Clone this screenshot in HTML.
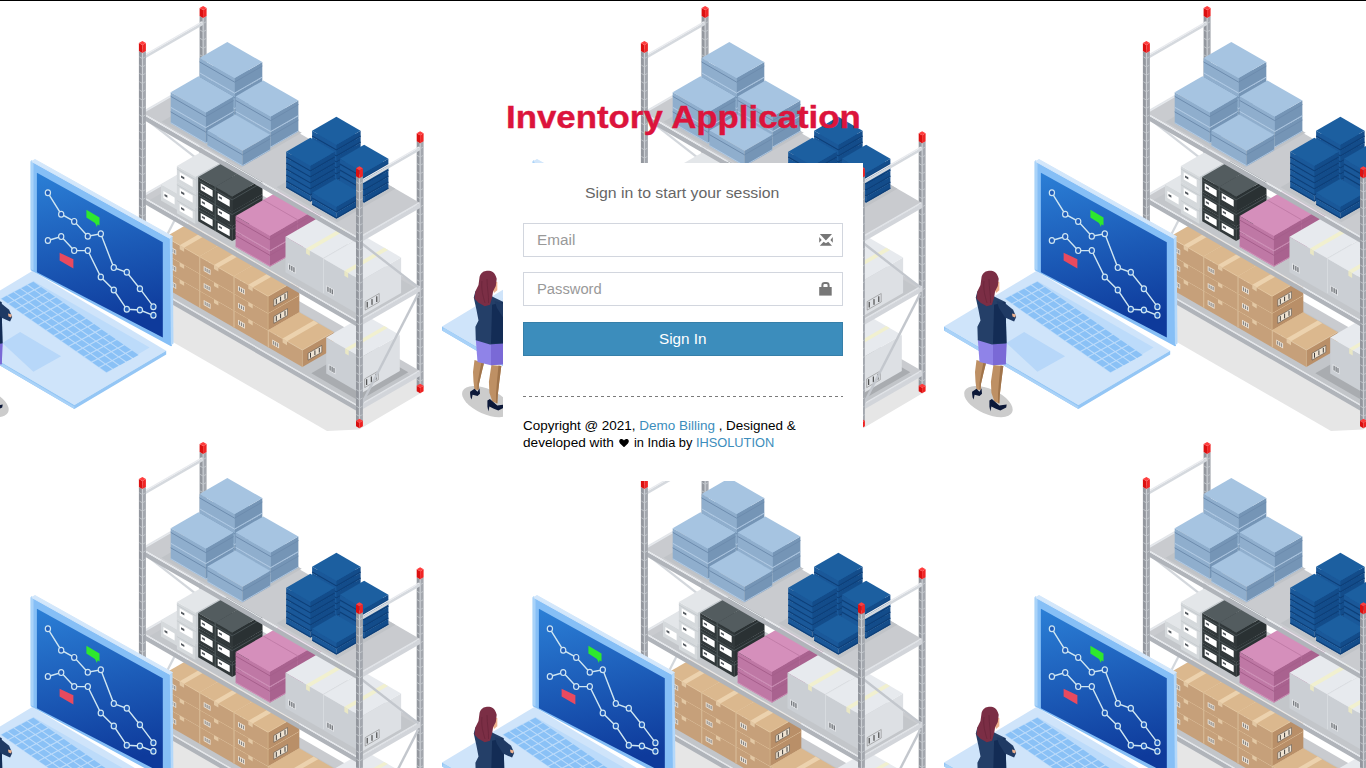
<!DOCTYPE html>
<html><head><meta charset="utf-8"><title>Inventory Application</title>
<style>
html,body{margin:0;padding:0;width:1366px;height:768px;overflow:hidden;background:#fff;}
body{position:relative;font-family:"Liberation Sans",sans-serif;}
#bg{position:absolute;left:0;top:0;}
.topline{position:absolute;left:0;top:0;width:1366px;height:1px;background:#000;}
.abs{position:absolute;white-space:nowrap;}
.t{display:inline-block;transform-origin:0 0;}
#logo{left:506.2px;top:102.2px;font-size:30.5px;-webkit-text-stroke:0.35px #dc143c;line-height:30px;font-weight:bold;color:#dc143c;}
#box{left:503px;top:163px;width:360px;height:318px;background:#fff;}
#msg{left:585.3px;top:185px;font-size:14px;line-height:16px;color:#666;}
.inp{position:absolute;left:523px;width:318px;height:32px;border:1px solid #d2d6de;background:#fff;}
.ph{font-size:14px;line-height:16px;color:#999;}
#btn{position:absolute;left:523px;top:322px;width:318px;height:32px;border:1px solid #367fa9;background:#3c8dbc;}
#btnt{left:659px;top:331px;font-size:14px;line-height:16px;color:#fff;}
.cp{font-size:12px;line-height:14px;color:#000;}
.lk{color:#3c8dbc;}
</style></head><body>
<svg id="bg" width="1366" height="768" viewBox="0 0 1366 768">
<defs>
<linearGradient id="scr" x1="0" y1="0" x2="0.15" y2="1">
<stop offset="0" stop-color="#2b7fd6"/><stop offset="1" stop-color="#0e3a9b"/>
</linearGradient>
<g id="tile">
<g id="rack"><polygon points="100.0,300.0 210.0,255.0 421.0,378.0 421.0,393.0 359.0,429.5 327.0,431.0" fill="#e6e6e6"/>
<polygon points="199.6,260.4 203.1,262.4 203.1,17.9 199.6,15.9" fill="#93979e"/>
<polygon points="203.1,262.4 206.6,260.4 206.6,15.9 203.1,17.9" fill="#a3a7ae"/>
<polygon points="199.6,15.9 203.1,17.9 206.6,15.9 203.1,13.9" fill="#c4c8cd"/>
<line x1="203.1" y1="261.9" x2="203.1" y2="17.9" stroke="#cdd1d6" stroke-width="1.1"/>
<path d="M200.1,254.2L203.1,255.9L206.1,254.2M200.1,245.9L203.1,247.6L206.1,245.9M200.1,237.6L203.1,239.3L206.1,237.6M200.1,229.3L203.1,231.0L206.1,229.3M200.1,221.0L203.1,222.8L206.1,221.0M200.1,212.7L203.1,214.4L206.1,212.7M200.1,204.4L203.1,206.1L206.1,204.4M200.1,196.1L203.1,197.8L206.1,196.1M200.1,187.8L203.1,189.6L206.1,187.8M200.1,179.5L203.1,181.2L206.1,179.5M200.1,171.2L203.1,172.9L206.1,171.2M200.1,162.9L203.1,164.7L206.1,162.9M200.1,154.6L203.1,156.4L206.1,154.6M200.1,146.3L203.1,148.1L206.1,146.3M200.1,138.0L203.1,139.8L206.1,138.0M200.1,129.7L203.1,131.4L206.1,129.7M200.1,121.4L203.1,123.1L206.1,121.4M200.1,113.1L203.1,114.8L206.1,113.1M200.1,104.8L203.1,106.5L206.1,104.8M200.1,96.5L203.1,98.2L206.1,96.5M200.1,88.2L203.1,89.9L206.1,88.2M200.1,79.9L203.1,81.6L206.1,79.9M200.1,71.6L203.1,73.3L206.1,71.6M200.1,63.3L203.1,65.0L206.1,63.3M200.1,55.0L203.1,56.7L206.1,55.0M200.1,46.7L203.1,48.4L206.1,46.7M200.1,38.4L203.1,40.1L206.1,38.4M200.1,30.1L203.1,31.8L206.1,30.1M200.1,21.8L203.1,23.5L206.1,21.8" stroke="#c3c7cc" stroke-width="0.9" fill="none"/>
<polygon points="199.6,265.9 203.1,267.9 203.1,262.4 199.6,260.4" fill="#d90f0f"/>
<polygon points="203.1,267.9 206.6,265.9 206.6,260.4 203.1,262.4" fill="#ee2020"/>
<polygon points="199.6,260.4 203.1,262.4 206.6,260.4 203.1,258.4" fill="#ff3a3a"/>
<polygon points="199.6,15.9 203.1,17.9 203.1,9.9 199.6,7.9" fill="#dc1010"/>
<polygon points="203.1,17.9 206.6,15.9 206.6,7.9 203.1,9.9" fill="#f02525"/>
<polygon points="199.6,7.9 203.1,9.9 206.6,7.9 203.1,5.9" fill="#ff3d3d"/>
<polygon points="416.7,385.8 420.1,387.8 420.1,143.2 416.7,141.2" fill="#93979e"/>
<polygon points="420.1,387.8 423.6,385.8 423.6,141.2 420.1,143.2" fill="#a3a7ae"/>
<polygon points="416.7,141.2 420.1,143.2 423.6,141.2 420.1,139.2" fill="#c4c8cd"/>
<line x1="420.1" y1="387.2" x2="420.1" y2="143.2" stroke="#cdd1d6" stroke-width="1.1"/>
<path d="M417.1,379.5L420.1,381.2L423.2,379.5M417.1,371.2L420.1,372.9L423.2,371.2M417.1,362.9L420.1,364.6L423.2,362.9M417.1,354.6L420.1,356.4L423.2,354.6M417.1,346.3L420.1,348.1L423.2,346.3M417.1,338.0L420.1,339.8L423.2,338.0M417.1,329.7L420.1,331.4L423.2,329.7M417.1,321.4L420.1,323.1L423.2,321.4M417.1,313.1L420.1,314.9L423.2,313.1M417.1,304.8L420.1,306.6L423.2,304.8M417.1,296.5L420.1,298.2L423.2,296.5M417.1,288.2L420.1,290.0L423.2,288.2M417.1,279.9L420.1,281.7L423.2,279.9M417.1,271.6L420.1,273.4L423.2,271.6M417.1,263.3L420.1,265.1L423.2,263.3M417.1,255.0L420.1,256.8L423.2,255.0M417.1,246.7L420.1,248.4L423.2,246.7M417.1,238.4L420.1,240.1L423.2,238.4M417.1,230.1L420.1,231.8L423.2,230.1M417.1,221.8L420.1,223.5L423.2,221.8M417.1,213.5L420.1,215.2L423.2,213.5M417.1,205.2L420.1,206.9L423.2,205.2M417.1,196.9L420.1,198.6L423.2,196.9M417.1,188.6L420.1,190.3L423.2,188.6M417.1,180.3L420.1,182.0L423.2,180.3M417.1,172.0L420.1,173.7L423.2,172.0M417.1,163.7L420.1,165.4L423.2,163.7M417.1,155.4L420.1,157.1L423.2,155.4M417.1,147.1L420.1,148.8L423.2,147.1" stroke="#c3c7cc" stroke-width="0.9" fill="none"/>
<polygon points="416.7,391.2 420.1,393.2 420.1,387.8 416.7,385.8" fill="#d90f0f"/>
<polygon points="420.1,393.2 423.6,391.2 423.6,385.8 420.1,387.8" fill="#ee2020"/>
<polygon points="416.7,385.8 420.1,387.8 423.6,385.8 420.1,383.8" fill="#ff3a3a"/>
<polygon points="416.7,141.2 420.1,143.2 420.1,135.2 416.7,133.2" fill="#dc1010"/>
<polygon points="420.1,143.2 423.6,141.2 423.6,133.2 420.1,135.2" fill="#f02525"/>
<polygon points="416.7,133.2 420.1,135.2 423.6,133.2 420.1,131.2" fill="#ff3d3d"/>
<line x1="144.1" y1="117.7" x2="201.4" y2="162.1" stroke="#d3d7dc" stroke-width="2.2"/>
<line x1="201.4" y1="168.1" x2="144.1" y2="279.7" stroke="#d3d7dc" stroke-width="2.2"/>
<polygon points="141.1,116.9 142.4,117.7 142.4,112.7 141.1,111.9" fill="#b0b4ba"/>
<polygon points="142.4,117.7 203.1,82.6 203.1,77.6 142.4,112.7" fill="#d2d5da"/>
<polygon points="141.1,111.9 142.4,112.7 203.1,77.6 201.8,76.9" fill="#e2e5e9"/>
<polygon points="141.1,200.4 142.4,201.2 142.4,196.2 141.1,195.4" fill="#b0b4ba"/>
<polygon points="142.4,201.2 203.1,166.1 203.1,161.1 142.4,196.2" fill="#d2d5da"/>
<polygon points="141.1,195.4 142.4,196.2 203.1,161.1 201.8,160.4" fill="#e2e5e9"/>
<polygon points="141.1,284.9 142.4,285.7 142.4,280.7 141.1,279.9" fill="#b0b4ba"/>
<polygon points="142.4,285.7 203.1,250.6 203.1,245.6 142.4,280.7" fill="#d2d5da"/>
<polygon points="141.1,279.9 142.4,280.7 203.1,245.6 201.8,244.9" fill="#e2e5e9"/>
<polygon points="141.1,59.2 142.4,60.0 142.4,57.0 141.1,56.2" fill="#c8ccd1"/>
<polygon points="142.4,60.0 203.1,24.9 203.1,21.9 142.4,57.0" fill="#d5d9de"/>
<polygon points="141.1,56.2 142.4,57.0 203.1,21.9 201.8,21.2" fill="#e8eaee"/>
<polygon points="142.4,280.7 359.4,406.0 420.1,370.9 203.1,245.6" fill="#c9cbcf"/>
<polygon points="142.0,280.4 143.3,281.2 204.0,246.1 202.7,245.4" fill="#e6e9ed"/>
<polygon points="151.1,285.7 358.9,405.7 410.9,375.7 203.0,255.7" fill="#c2c5c9"/>
<polygon points="165.3,287.9 199.6,307.7 199.6,290.7 165.3,270.9" fill="#c6a07a"/>
<polygon points="199.6,307.7 230.7,289.7 230.7,272.7 199.6,290.7" fill="#b98f68"/>
<polygon points="165.3,270.9 199.6,290.7 230.7,272.7 196.4,252.9" fill="#dbb88e"/>
<polyline points="165.3,270.9 199.6,290.7 230.7,272.7" fill="none" stroke="#e6cba6" stroke-width="0.7"/>
<polyline points="199.6,307.7 199.6,290.7" fill="none" stroke="#d4b48c" stroke-width="0.7"/>
<polyline points="165.5,288.1 165.5,271.1" fill="none" stroke="#dcc29e" stroke-width="0.8"/>
<polygon points="179.7,279.2 184.1,281.8 215.3,263.8 210.8,261.2" fill="#ecd2ae"/>
<polygon points="179.7,279.2 184.1,281.8 184.1,285.8 179.7,283.2" fill="#e3c8a4"/>
<polygon points="169.4,285.2 176.2,289.1 176.2,284.0 169.4,280.1" fill="#efe6da"/>
<polygon points="170.4,284.9 171.3,285.5 171.3,282.0 170.4,281.4" fill="#7b7b7b"/>
<polygon points="172.3,286.1 173.3,286.6 173.3,283.1 172.3,282.6" fill="#7b7b7b"/>
<polygon points="174.3,287.2 175.3,287.8 175.3,284.3 174.3,283.7" fill="#7b7b7b"/>
<polygon points="205.2,300.7 218.9,292.8 218.9,286.0 205.2,293.9" fill="#efe3d2"/>
<polyline points="207.7,298.3 207.7,293.5" fill="none" stroke="#2a2a2a" stroke-width="0.9"/>
<polyline points="212.0,295.7 212.0,291.0" fill="none" stroke="#2a2a2a" stroke-width="0.9"/>
<polyline points="216.4,293.2 216.4,288.5" fill="none" stroke="#2a2a2a" stroke-width="0.9"/>
<polyline points="205.2,300.7 218.9,292.8 218.9,286.0 205.2,293.9 205.2,300.7" fill="none" stroke="#444" stroke-width="0.5"/>
<polygon points="165.3,270.9 199.6,290.7 199.6,273.7 165.3,253.9" fill="#c6a07a"/>
<polygon points="199.6,290.7 230.7,272.7 230.7,255.7 199.6,273.7" fill="#b98f68"/>
<polygon points="165.3,253.9 199.6,273.7 230.7,255.7 196.4,235.9" fill="#dbb88e"/>
<polyline points="165.3,253.9 199.6,273.7 230.7,255.7" fill="none" stroke="#e6cba6" stroke-width="0.7"/>
<polyline points="199.6,290.7 199.6,273.7" fill="none" stroke="#d4b48c" stroke-width="0.7"/>
<polyline points="165.5,271.1 165.5,254.1" fill="none" stroke="#dcc29e" stroke-width="0.8"/>
<polygon points="179.7,262.2 184.1,264.8 215.3,246.8 210.8,244.2" fill="#ecd2ae"/>
<polygon points="179.7,262.2 184.1,264.8 184.1,268.8 179.7,266.2" fill="#e3c8a4"/>
<polygon points="169.4,268.2 176.2,272.1 176.2,267.0 169.4,263.1" fill="#efe6da"/>
<polygon points="170.4,267.9 171.3,268.5 171.3,265.0 170.4,264.4" fill="#7b7b7b"/>
<polygon points="172.3,269.1 173.3,269.6 173.3,266.1 172.3,265.6" fill="#7b7b7b"/>
<polygon points="174.3,270.2 175.3,270.8 175.3,267.3 174.3,266.7" fill="#7b7b7b"/>
<polygon points="205.2,283.7 218.9,275.8 218.9,269.0 205.2,276.9" fill="#efe3d2"/>
<polyline points="207.7,281.3 207.7,276.5" fill="none" stroke="#2a2a2a" stroke-width="0.9"/>
<polyline points="212.0,278.7 212.0,274.0" fill="none" stroke="#2a2a2a" stroke-width="0.9"/>
<polyline points="216.4,276.2 216.4,271.5" fill="none" stroke="#2a2a2a" stroke-width="0.9"/>
<polyline points="205.2,283.7 218.9,275.8 218.9,269.0 205.2,276.9 205.2,283.7" fill="none" stroke="#444" stroke-width="0.5"/>
<polygon points="165.3,253.9 199.6,273.7 199.6,256.7 165.3,236.9" fill="#c6a07a"/>
<polygon points="199.6,273.7 230.7,255.7 230.7,238.7 199.6,256.7" fill="#b98f68"/>
<polygon points="165.3,236.9 199.6,256.7 230.7,238.7 196.4,218.9" fill="#dbb88e"/>
<polyline points="165.3,236.9 199.6,256.7 230.7,238.7" fill="none" stroke="#e6cba6" stroke-width="0.7"/>
<polyline points="199.6,273.7 199.6,256.7" fill="none" stroke="#d4b48c" stroke-width="0.7"/>
<polyline points="165.5,254.1 165.5,237.1" fill="none" stroke="#dcc29e" stroke-width="0.8"/>
<polygon points="179.7,245.2 184.1,247.8 215.3,229.8 210.8,227.2" fill="#ecd2ae"/>
<polygon points="179.7,245.2 184.1,247.8 184.1,251.8 179.7,249.2" fill="#e3c8a4"/>
<polygon points="169.4,251.2 176.2,255.1 176.2,250.0 169.4,246.1" fill="#efe6da"/>
<polygon points="170.4,250.9 171.3,251.5 171.3,248.0 170.4,247.4" fill="#7b7b7b"/>
<polygon points="172.3,252.1 173.3,252.6 173.3,249.1 172.3,248.6" fill="#7b7b7b"/>
<polygon points="174.3,253.2 175.3,253.8 175.3,250.3 174.3,249.7" fill="#7b7b7b"/>
<polygon points="205.2,266.7 218.9,258.8 218.9,252.0 205.2,259.9" fill="#efe3d2"/>
<polyline points="207.7,264.3 207.7,259.5" fill="none" stroke="#2a2a2a" stroke-width="0.9"/>
<polyline points="212.0,261.7 212.0,257.0" fill="none" stroke="#2a2a2a" stroke-width="0.9"/>
<polyline points="216.4,259.2 216.4,254.5" fill="none" stroke="#2a2a2a" stroke-width="0.9"/>
<polyline points="205.2,266.7 218.9,258.8 218.9,252.0 205.2,259.9 205.2,266.7" fill="none" stroke="#444" stroke-width="0.5"/>
<polygon points="199.6,307.7 233.9,327.5 233.9,310.5 199.6,290.7" fill="#c6a07a"/>
<polygon points="233.9,327.5 265.0,309.5 265.0,292.5 233.9,310.5" fill="#b98f68"/>
<polygon points="199.6,290.7 233.9,310.5 265.0,292.5 230.7,272.7" fill="#dbb88e"/>
<polyline points="199.6,290.7 233.9,310.5 265.0,292.5" fill="none" stroke="#e6cba6" stroke-width="0.7"/>
<polyline points="233.9,327.5 233.9,310.5" fill="none" stroke="#d4b48c" stroke-width="0.7"/>
<polyline points="199.8,307.8 199.8,290.8" fill="none" stroke="#dcc29e" stroke-width="0.8"/>
<polygon points="214.0,299.0 218.4,301.6 249.6,283.6 245.1,281.0" fill="#ecd2ae"/>
<polygon points="214.0,299.0 218.4,301.6 218.4,305.6 214.0,303.0" fill="#e3c8a4"/>
<polygon points="203.7,305.0 210.5,308.9 210.5,303.8 203.7,299.9" fill="#efe6da"/>
<polygon points="204.7,304.7 205.6,305.3 205.6,301.8 204.7,301.2" fill="#7b7b7b"/>
<polygon points="206.6,305.9 207.6,306.4 207.6,302.9 206.6,302.4" fill="#7b7b7b"/>
<polygon points="208.6,307.0 209.6,307.6 209.6,304.1 208.6,303.5" fill="#7b7b7b"/>
<polygon points="239.5,320.5 253.2,312.6 253.2,305.8 239.5,313.7" fill="#efe3d2"/>
<polyline points="242.0,318.1 242.0,313.3" fill="none" stroke="#2a2a2a" stroke-width="0.9"/>
<polyline points="246.3,315.5 246.3,310.8" fill="none" stroke="#2a2a2a" stroke-width="0.9"/>
<polyline points="250.7,313.0 250.7,308.3" fill="none" stroke="#2a2a2a" stroke-width="0.9"/>
<polyline points="239.5,320.5 253.2,312.6 253.2,305.8 239.5,313.7 239.5,320.5" fill="none" stroke="#444" stroke-width="0.5"/>
<polygon points="199.6,290.7 233.9,310.5 233.9,293.5 199.6,273.7" fill="#c6a07a"/>
<polygon points="233.9,310.5 265.0,292.5 265.0,275.5 233.9,293.5" fill="#b98f68"/>
<polygon points="199.6,273.7 233.9,293.5 265.0,275.5 230.7,255.7" fill="#dbb88e"/>
<polyline points="199.6,273.7 233.9,293.5 265.0,275.5" fill="none" stroke="#e6cba6" stroke-width="0.7"/>
<polyline points="233.9,310.5 233.9,293.5" fill="none" stroke="#d4b48c" stroke-width="0.7"/>
<polyline points="199.8,290.8 199.8,273.8" fill="none" stroke="#dcc29e" stroke-width="0.8"/>
<polygon points="214.0,282.0 218.4,284.6 249.6,266.6 245.1,264.0" fill="#ecd2ae"/>
<polygon points="214.0,282.0 218.4,284.6 218.4,288.6 214.0,286.0" fill="#e3c8a4"/>
<polygon points="203.7,288.0 210.5,291.9 210.5,286.8 203.7,282.9" fill="#efe6da"/>
<polygon points="204.7,287.7 205.6,288.3 205.6,284.8 204.7,284.2" fill="#7b7b7b"/>
<polygon points="206.6,288.9 207.6,289.4 207.6,285.9 206.6,285.4" fill="#7b7b7b"/>
<polygon points="208.6,290.0 209.6,290.6 209.6,287.1 208.6,286.5" fill="#7b7b7b"/>
<polygon points="239.5,303.5 253.2,295.6 253.2,288.8 239.5,296.7" fill="#efe3d2"/>
<polyline points="242.0,301.1 242.0,296.3" fill="none" stroke="#2a2a2a" stroke-width="0.9"/>
<polyline points="246.3,298.5 246.3,293.8" fill="none" stroke="#2a2a2a" stroke-width="0.9"/>
<polyline points="250.7,296.0 250.7,291.3" fill="none" stroke="#2a2a2a" stroke-width="0.9"/>
<polyline points="239.5,303.5 253.2,295.6 253.2,288.8 239.5,296.7 239.5,303.5" fill="none" stroke="#444" stroke-width="0.5"/>
<polygon points="199.6,273.7 233.9,293.5 233.9,276.5 199.6,256.7" fill="#c6a07a"/>
<polygon points="233.9,293.5 265.0,275.5 265.0,258.5 233.9,276.5" fill="#b98f68"/>
<polygon points="199.6,256.7 233.9,276.5 265.0,258.5 230.7,238.7" fill="#dbb88e"/>
<polyline points="199.6,256.7 233.9,276.5 265.0,258.5" fill="none" stroke="#e6cba6" stroke-width="0.7"/>
<polyline points="233.9,293.5 233.9,276.5" fill="none" stroke="#d4b48c" stroke-width="0.7"/>
<polyline points="199.8,273.8 199.8,256.8" fill="none" stroke="#dcc29e" stroke-width="0.8"/>
<polygon points="214.0,265.0 218.4,267.6 249.6,249.6 245.1,247.0" fill="#ecd2ae"/>
<polygon points="214.0,265.0 218.4,267.6 218.4,271.6 214.0,269.0" fill="#e3c8a4"/>
<polygon points="203.7,271.0 210.5,274.9 210.5,269.8 203.7,265.9" fill="#efe6da"/>
<polygon points="204.7,270.7 205.6,271.3 205.6,267.8 204.7,267.2" fill="#7b7b7b"/>
<polygon points="206.6,271.9 207.6,272.4 207.6,268.9 206.6,268.4" fill="#7b7b7b"/>
<polygon points="208.6,273.0 209.6,273.6 209.6,270.1 208.6,269.5" fill="#7b7b7b"/>
<polygon points="239.5,286.5 253.2,278.6 253.2,271.8 239.5,279.7" fill="#efe3d2"/>
<polyline points="242.0,284.1 242.0,279.3" fill="none" stroke="#2a2a2a" stroke-width="0.9"/>
<polyline points="246.3,281.5 246.3,276.8" fill="none" stroke="#2a2a2a" stroke-width="0.9"/>
<polyline points="250.7,279.0 250.7,274.3" fill="none" stroke="#2a2a2a" stroke-width="0.9"/>
<polyline points="239.5,286.5 253.2,278.6 253.2,271.8 239.5,279.7 239.5,286.5" fill="none" stroke="#444" stroke-width="0.5"/>
<polygon points="233.9,327.5 268.1,347.3 268.1,330.3 233.9,310.5" fill="#c6a07a"/>
<polygon points="268.1,347.3 299.3,329.3 299.3,312.3 268.1,330.3" fill="#b98f68"/>
<polygon points="233.9,310.5 268.1,330.3 299.3,312.3 265.0,292.5" fill="#dbb88e"/>
<polyline points="233.9,310.5 268.1,330.3 299.3,312.3" fill="none" stroke="#e6cba6" stroke-width="0.7"/>
<polyline points="268.1,347.3 268.1,330.3" fill="none" stroke="#d4b48c" stroke-width="0.7"/>
<polyline points="234.1,327.6 234.1,310.6" fill="none" stroke="#dcc29e" stroke-width="0.8"/>
<polygon points="248.3,318.8 252.7,321.4 283.9,303.4 279.4,300.8" fill="#ecd2ae"/>
<polygon points="248.3,318.8 252.7,321.4 252.7,325.4 248.3,322.8" fill="#e3c8a4"/>
<polygon points="238.0,324.8 244.8,328.7 244.8,323.6 238.0,319.7" fill="#efe6da"/>
<polygon points="238.9,324.5 239.9,325.1 239.9,321.6 238.9,321.0" fill="#7b7b7b"/>
<polygon points="240.9,325.7 241.9,326.2 241.9,322.7 240.9,322.2" fill="#7b7b7b"/>
<polygon points="242.9,326.8 243.8,327.4 243.8,323.9 242.9,323.3" fill="#7b7b7b"/>
<polygon points="273.8,340.3 287.5,332.4 287.5,325.6 273.8,333.5" fill="#efe3d2"/>
<polyline points="276.3,337.9 276.3,333.1" fill="none" stroke="#2a2a2a" stroke-width="0.9"/>
<polyline points="280.6,335.3 280.6,330.6" fill="none" stroke="#2a2a2a" stroke-width="0.9"/>
<polyline points="285.0,332.8 285.0,328.1" fill="none" stroke="#2a2a2a" stroke-width="0.9"/>
<polyline points="273.8,340.3 287.5,332.4 287.5,325.6 273.8,333.5 273.8,340.3" fill="none" stroke="#444" stroke-width="0.5"/>
<polygon points="233.9,310.5 268.1,330.3 268.1,313.3 233.9,293.5" fill="#c6a07a"/>
<polygon points="268.1,330.3 299.3,312.3 299.3,295.3 268.1,313.3" fill="#b98f68"/>
<polygon points="233.9,293.5 268.1,313.3 299.3,295.3 265.0,275.5" fill="#dbb88e"/>
<polyline points="233.9,293.5 268.1,313.3 299.3,295.3" fill="none" stroke="#e6cba6" stroke-width="0.7"/>
<polyline points="268.1,330.3 268.1,313.3" fill="none" stroke="#d4b48c" stroke-width="0.7"/>
<polyline points="234.1,310.6 234.1,293.6" fill="none" stroke="#dcc29e" stroke-width="0.8"/>
<polygon points="248.3,301.8 252.7,304.4 283.9,286.4 279.4,283.8" fill="#ecd2ae"/>
<polygon points="248.3,301.8 252.7,304.4 252.7,308.4 248.3,305.8" fill="#e3c8a4"/>
<polygon points="238.0,307.8 244.8,311.7 244.8,306.6 238.0,302.7" fill="#efe6da"/>
<polygon points="238.9,307.5 239.9,308.1 239.9,304.6 238.9,304.0" fill="#7b7b7b"/>
<polygon points="240.9,308.7 241.9,309.2 241.9,305.7 240.9,305.2" fill="#7b7b7b"/>
<polygon points="242.9,309.8 243.8,310.4 243.8,306.9 242.9,306.3" fill="#7b7b7b"/>
<polygon points="273.8,323.3 287.5,315.4 287.5,308.6 273.8,316.5" fill="#efe3d2"/>
<polyline points="276.3,320.9 276.3,316.1" fill="none" stroke="#2a2a2a" stroke-width="0.9"/>
<polyline points="280.6,318.3 280.6,313.6" fill="none" stroke="#2a2a2a" stroke-width="0.9"/>
<polyline points="285.0,315.8 285.0,311.1" fill="none" stroke="#2a2a2a" stroke-width="0.9"/>
<polyline points="273.8,323.3 287.5,315.4 287.5,308.6 273.8,316.5 273.8,323.3" fill="none" stroke="#444" stroke-width="0.5"/>
<polygon points="233.9,293.5 268.1,313.3 268.1,296.3 233.9,276.5" fill="#c6a07a"/>
<polygon points="268.1,313.3 299.3,295.3 299.3,278.3 268.1,296.3" fill="#b98f68"/>
<polygon points="233.9,276.5 268.1,296.3 299.3,278.3 265.0,258.5" fill="#dbb88e"/>
<polyline points="233.9,276.5 268.1,296.3 299.3,278.3" fill="none" stroke="#e6cba6" stroke-width="0.7"/>
<polyline points="268.1,313.3 268.1,296.3" fill="none" stroke="#d4b48c" stroke-width="0.7"/>
<polyline points="234.1,293.6 234.1,276.6" fill="none" stroke="#dcc29e" stroke-width="0.8"/>
<polygon points="248.3,284.8 252.7,287.4 283.9,269.4 279.4,266.8" fill="#ecd2ae"/>
<polygon points="248.3,284.8 252.7,287.4 252.7,291.4 248.3,288.8" fill="#e3c8a4"/>
<polygon points="238.0,290.8 244.8,294.7 244.8,289.6 238.0,285.7" fill="#efe6da"/>
<polygon points="238.9,290.5 239.9,291.1 239.9,287.6 238.9,287.0" fill="#7b7b7b"/>
<polygon points="240.9,291.7 241.9,292.2 241.9,288.7 240.9,288.2" fill="#7b7b7b"/>
<polygon points="242.9,292.8 243.8,293.4 243.8,289.9 242.9,289.3" fill="#7b7b7b"/>
<polygon points="273.8,306.3 287.5,298.4 287.5,291.6 273.8,299.5" fill="#efe3d2"/>
<polyline points="276.3,303.9 276.3,299.1" fill="none" stroke="#2a2a2a" stroke-width="0.9"/>
<polyline points="280.6,301.3 280.6,296.6" fill="none" stroke="#2a2a2a" stroke-width="0.9"/>
<polyline points="285.0,298.8 285.0,294.1" fill="none" stroke="#2a2a2a" stroke-width="0.9"/>
<polyline points="273.8,306.3 287.5,298.4 287.5,291.6 273.8,299.5 273.8,306.3" fill="none" stroke="#444" stroke-width="0.5"/>
<polygon points="268.1,347.3 302.4,367.1 302.4,350.1 268.1,330.3" fill="#c6a07a"/>
<polygon points="302.4,367.1 333.6,349.1 333.6,332.1 302.4,350.1" fill="#b98f68"/>
<polygon points="268.1,330.3 302.4,350.1 333.6,332.1 299.3,312.3" fill="#dbb88e"/>
<polyline points="268.1,330.3 302.4,350.1 333.6,332.1" fill="none" stroke="#e6cba6" stroke-width="0.7"/>
<polyline points="302.4,367.1 302.4,350.1" fill="none" stroke="#d4b48c" stroke-width="0.7"/>
<polyline points="268.4,347.4 268.4,330.4" fill="none" stroke="#dcc29e" stroke-width="0.8"/>
<polygon points="282.6,338.6 287.0,341.2 318.2,323.2 313.7,320.6" fill="#ecd2ae"/>
<polygon points="282.6,338.6 287.0,341.2 287.0,345.2 282.6,342.6" fill="#e3c8a4"/>
<polygon points="272.3,344.6 279.1,348.5 279.1,343.4 272.3,339.5" fill="#efe6da"/>
<polygon points="273.2,344.3 274.2,344.9 274.2,341.4 273.2,340.8" fill="#7b7b7b"/>
<polygon points="275.2,345.5 276.2,346.0 276.2,342.5 275.2,342.0" fill="#7b7b7b"/>
<polygon points="277.2,346.6 278.1,347.2 278.1,343.7 277.2,343.1" fill="#7b7b7b"/>
<polygon points="308.1,360.1 321.8,352.2 321.8,345.4 308.1,353.3" fill="#efe3d2"/>
<polyline points="310.5,357.7 310.5,352.9" fill="none" stroke="#2a2a2a" stroke-width="0.9"/>
<polyline points="314.9,355.1 314.9,350.4" fill="none" stroke="#2a2a2a" stroke-width="0.9"/>
<polyline points="319.3,352.6 319.3,347.9" fill="none" stroke="#2a2a2a" stroke-width="0.9"/>
<polyline points="308.1,360.1 321.8,352.2 321.8,345.4 308.1,353.3 308.1,360.1" fill="none" stroke="#444" stroke-width="0.5"/>
<polygon points="311.3,373.2 358.9,400.7 408.3,372.2 360.6,344.7" fill="#a9acb0"/>
<polygon points="326.2,373.4 360.8,393.4 360.8,357.4 326.2,337.4" fill="#cbcfd4"/>
<polygon points="360.8,393.4 399.8,370.9 399.8,334.9 360.8,357.4" fill="#dde0e4"/>
<polygon points="326.2,337.4 360.8,357.4 399.8,334.9 365.1,314.9" fill="#e7eaee"/>
<polygon points="345.2,348.4 348.7,350.4 387.7,327.9 384.2,325.9" fill="#f1f0cf"/>
<polygon points="345.2,348.4 348.7,350.4 348.7,355.4 345.2,353.4" fill="#e9e7c4"/>
<polygon points="328.6,370.5 335.5,374.5 335.5,368.0 328.6,364.0" fill="#e4e6e9"/>
<polygon points="329.6,370.3 330.6,370.8 330.6,365.9 329.6,365.4" fill="#5f6368"/>
<polygon points="331.6,371.4 332.6,372.0 332.6,367.1 331.6,366.5" fill="#5f6368"/>
<polygon points="333.5,372.5 334.5,373.1 334.5,368.2 333.5,367.7" fill="#5f6368"/>
<polyline points="366.7,385.0 366.7,379.2" fill="none" stroke="#333" stroke-width="1.0"/>
<polyline points="371.3,382.3 371.3,376.5" fill="none" stroke="#333" stroke-width="1.0"/>
<polyline points="376.0,379.6 376.0,373.8" fill="none" stroke="#333" stroke-width="1.0"/>
<polyline points="364.7,387.6 378.3,379.7 378.3,371.0 364.7,378.9 364.7,387.6" fill="none" stroke="#777" stroke-width="0.5"/>
<polygon points="141.1,286.4 358.1,411.8 358.1,406.8 141.1,281.4" fill="#b0b4ba"/>
<polygon points="358.1,411.8 359.4,411.0 359.4,406.0 358.1,406.8" fill="#c8ccd1"/>
<polygon points="141.1,281.4 358.1,406.8 359.4,406.0 142.4,280.7" fill="#e4e7eb"/>
<polygon points="358.1,410.2 359.4,411.0 359.4,406.0 358.1,405.2" fill="#b0b4ba"/>
<polygon points="359.4,411.0 420.1,375.9 420.1,370.9 359.4,406.0" fill="#d2d5da"/>
<polygon points="358.1,405.2 359.4,406.0 420.1,370.9 418.8,370.2" fill="#e2e5e9"/>
<line x1="418.4" y1="293.4" x2="361.2" y2="405.0" stroke="#c3c7cd" stroke-width="2.4"/>
<polygon points="142.4,196.2 359.4,321.5 420.1,286.4 203.1,161.1" fill="#c9cbcf"/>
<polygon points="142.0,195.9 143.3,196.7 204.0,161.6 202.7,160.9" fill="#e6e9ed"/>
<polygon points="149.3,200.2 358.9,321.2 416.1,288.2 206.5,167.2" fill="#c3c6ca"/>
<polygon points="161.0,200.6 177.0,209.8 177.0,194.0 161.0,184.8" fill="#d5d9dc"/>
<polygon points="177.0,209.8 220.3,184.8 220.3,169.0 177.0,194.0" fill="#c8cdd1"/>
<polygon points="161.0,184.8 177.0,194.0 220.3,169.0 204.3,159.8" fill="#e3e6e9"/>
<polygon points="163.4,198.0 174.6,204.5 174.6,197.4 163.4,190.9" fill="#ffffff"/>
<polygon points="164.5,196.0 167.4,197.7 167.4,195.6 164.5,193.9" fill="#555a60"/>
<polygon points="176.9,213.3 195.5,224.1 195.5,208.3 176.9,197.5" fill="#d5d9dc"/>
<polygon points="195.5,224.1 225.8,206.6 225.8,190.8 195.5,208.3" fill="#c8cdd1"/>
<polygon points="176.9,197.5 195.5,208.3 225.8,190.8 207.2,180.0" fill="#e3e6e9"/>
<polygon points="179.7,211.0 192.7,218.5 192.7,211.4 179.7,203.9" fill="#ffffff"/>
<polygon points="181.0,209.0 184.3,211.0 184.3,208.9 181.0,207.0" fill="#555a60"/>
<polyline points="176.9,200.5 195.5,211.3 225.8,193.8" fill="none" stroke="#c3c8cc" stroke-width="0.8"/>
<polygon points="176.9,197.5 195.5,208.3 195.5,192.5 176.9,181.7" fill="#d5d9dc"/>
<polygon points="195.5,208.3 225.8,190.8 225.8,175.0 195.5,192.5" fill="#c8cdd1"/>
<polygon points="176.9,181.7 195.5,192.5 225.8,175.0 207.2,164.2" fill="#e3e6e9"/>
<polygon points="179.7,195.2 192.7,202.7 192.7,195.6 179.7,188.1" fill="#ffffff"/>
<polygon points="181.0,193.2 184.3,195.2 184.3,193.1 181.0,191.2" fill="#555a60"/>
<polyline points="176.9,184.7 195.5,195.5 225.8,178.0" fill="none" stroke="#c3c8cc" stroke-width="0.8"/>
<polygon points="176.9,181.7 195.5,192.5 195.5,176.7 176.9,165.9" fill="#d5d9dc"/>
<polygon points="195.5,192.5 225.8,175.0 225.8,159.2 195.5,176.7" fill="#c8cdd1"/>
<polygon points="176.9,165.9 195.5,176.7 225.8,159.2 207.2,148.4" fill="#e3e6e9"/>
<polygon points="179.7,179.4 192.7,186.9 192.7,179.8 179.7,172.3" fill="#ffffff"/>
<polygon points="181.0,177.4 184.3,179.4 184.3,177.3 181.0,175.4" fill="#555a60"/>
<polyline points="176.9,168.9 195.5,179.7 225.8,162.2" fill="none" stroke="#c3c8cc" stroke-width="0.8"/>
<polygon points="198.2,221.3 215.2,231.1 215.2,216.3 198.2,206.5" fill="#31383a"/>
<polygon points="215.2,231.1 245.5,213.6 245.5,198.8 215.2,216.3" fill="#2a3133"/>
<polygon points="198.2,206.5 215.2,216.3 245.5,198.8 228.5,189.0" fill="#535c5f"/>
<polygon points="200.7,219.6 212.6,226.5 212.6,219.8 200.7,212.9" fill="#ffffff"/>
<polygon points="201.9,217.7 205.0,219.5 205.0,217.6 201.9,215.8" fill="#555a60"/>
<polyline points="198.2,209.7 215.2,219.5 245.5,202.0" fill="none" stroke="#4b5558" stroke-width="0.9"/>
<polygon points="198.2,206.5 215.2,216.3 215.2,201.5 198.2,191.7" fill="#31383a"/>
<polygon points="215.2,216.3 245.5,198.8 245.5,184.0 215.2,201.5" fill="#2a3133"/>
<polygon points="198.2,191.7 215.2,201.5 245.5,184.0 228.5,174.2" fill="#535c5f"/>
<polygon points="200.7,204.8 212.6,211.7 212.6,205.0 200.7,198.1" fill="#ffffff"/>
<polygon points="201.9,202.9 205.0,204.7 205.0,202.8 201.9,201.0" fill="#555a60"/>
<polyline points="198.2,194.9 215.2,204.7 245.5,187.2" fill="none" stroke="#4b5558" stroke-width="0.9"/>
<polygon points="198.2,191.7 215.2,201.5 215.2,186.7 198.2,176.9" fill="#31383a"/>
<polygon points="215.2,201.5 245.5,184.0 245.5,169.2 215.2,186.7" fill="#2a3133"/>
<polygon points="198.2,176.9 215.2,186.7 245.5,169.2 228.5,159.4" fill="#535c5f"/>
<polygon points="200.7,190.0 212.6,196.9 212.6,190.2 200.7,183.3" fill="#ffffff"/>
<polygon points="201.9,188.1 205.0,189.9 205.0,188.0 201.9,186.2" fill="#555a60"/>
<polyline points="198.2,180.1 215.2,189.9 245.5,172.4" fill="none" stroke="#4b5558" stroke-width="0.9"/>
<polygon points="215.2,231.1 232.2,241.0 232.2,226.2 215.2,216.3" fill="#31383a"/>
<polygon points="232.2,241.0 262.5,223.5 262.5,208.7 232.2,226.2" fill="#2a3133"/>
<polygon points="215.2,216.3 232.2,226.2 262.5,208.7 245.5,198.8" fill="#535c5f"/>
<polygon points="217.7,229.4 229.7,236.3 229.7,229.6 217.7,222.7" fill="#ffffff"/>
<polygon points="218.9,227.6 222.0,229.3 222.0,227.4 218.9,225.6" fill="#555a60"/>
<polyline points="215.2,219.5 232.2,229.4 262.5,211.9" fill="none" stroke="#4b5558" stroke-width="0.9"/>
<polygon points="215.2,216.3 232.2,226.2 232.2,211.4 215.2,201.5" fill="#31383a"/>
<polygon points="232.2,226.2 262.5,208.7 262.5,193.9 232.2,211.4" fill="#2a3133"/>
<polygon points="215.2,201.5 232.2,211.4 262.5,193.9 245.5,184.0" fill="#535c5f"/>
<polygon points="217.7,214.6 229.7,221.5 229.7,214.8 217.7,207.9" fill="#ffffff"/>
<polygon points="218.9,212.8 222.0,214.5 222.0,212.6 218.9,210.8" fill="#555a60"/>
<polyline points="215.2,204.7 232.2,214.6 262.5,197.1" fill="none" stroke="#4b5558" stroke-width="0.9"/>
<polygon points="215.2,201.5 232.2,211.4 232.2,196.6 215.2,186.7" fill="#31383a"/>
<polygon points="232.2,211.4 262.5,193.9 262.5,179.1 232.2,196.6" fill="#2a3133"/>
<polygon points="215.2,186.7 232.2,196.6 262.5,179.1 245.5,169.2" fill="#535c5f"/>
<polygon points="217.7,199.8 229.7,206.7 229.7,200.0 217.7,193.1" fill="#ffffff"/>
<polygon points="218.9,198.0 222.0,199.7 222.0,197.8 218.9,196.0" fill="#555a60"/>
<polyline points="215.2,189.9 232.2,199.8 262.5,182.2" fill="none" stroke="#4b5558" stroke-width="0.9"/>
<polyline points="215.2,231.1 215.2,186.7" fill="none" stroke="#5a6467" stroke-width="0.8"/>
<polygon points="263.3,231.0 297.6,250.8 297.6,235.3 263.3,215.5" fill="#bf78a5"/>
<polygon points="297.6,250.8 325.3,234.8 325.3,219.3 297.6,235.3" fill="#a9628f"/>
<polygon points="263.3,215.5 297.6,235.3 325.3,219.3 291.0,199.5" fill="#d58fbb"/>
<polyline points="263.3,219.5 297.6,239.3 325.3,223.3" fill="none" stroke="#a65f8c" stroke-width="1"/>
<polyline points="263.3,230.4 297.6,250.2 325.3,234.2" fill="none" stroke="#d79cc2" stroke-width="0.7"/>
<polygon points="263.3,215.5 297.6,235.3 297.6,219.8 263.3,200.0" fill="#bf78a5"/>
<polygon points="297.6,235.3 325.3,219.3 325.3,203.8 297.6,219.8" fill="#a9628f"/>
<polygon points="263.3,200.0 297.6,219.8 325.3,203.8 291.0,184.0" fill="#d58fbb"/>
<polyline points="263.3,204.0 297.6,223.8 325.3,207.8" fill="none" stroke="#a65f8c" stroke-width="1"/>
<polyline points="263.3,214.9 297.6,234.7 325.3,218.7" fill="none" stroke="#d79cc2" stroke-width="0.7"/>
<polygon points="235.6,247.0 269.9,266.8 269.9,251.3 235.6,231.5" fill="#bf78a5"/>
<polygon points="269.9,266.8 297.6,250.8 297.6,235.3 269.9,251.3" fill="#a9628f"/>
<polygon points="235.6,231.5 269.9,251.3 297.6,235.3 263.3,215.5" fill="#d58fbb"/>
<polyline points="235.6,235.5 269.9,255.3 297.6,239.3" fill="none" stroke="#a65f8c" stroke-width="1"/>
<polyline points="235.6,246.4 269.9,266.2 297.6,250.2" fill="none" stroke="#d79cc2" stroke-width="0.7"/>
<polygon points="235.6,231.5 269.9,251.3 269.9,235.8 235.6,216.0" fill="#bf78a5"/>
<polygon points="269.9,251.3 297.6,235.3 297.6,219.8 269.9,235.8" fill="#a9628f"/>
<polygon points="235.6,216.0 269.9,235.8 297.6,219.8 263.3,200.0" fill="#d58fbb"/>
<polyline points="235.6,220.0 269.9,239.8 297.6,223.8" fill="none" stroke="#a65f8c" stroke-width="1"/>
<polyline points="235.6,230.9 269.9,250.7 297.6,234.7" fill="none" stroke="#d79cc2" stroke-width="0.7"/>
<polyline points="263.3,200.0 297.6,219.8" fill="none" stroke="#c07aa6" stroke-width="0.9"/>
<polygon points="285.5,272.2 323.0,293.8 323.0,258.3 285.5,236.7" fill="#cbcfd4"/>
<polygon points="323.0,293.8 362.8,270.8 362.8,235.3 323.0,258.3" fill="#dde0e4"/>
<polygon points="285.5,236.7 323.0,258.3 362.8,235.3 325.3,213.7" fill="#e7eaee"/>
<polygon points="306.1,248.6 309.8,250.8 349.7,227.8 345.9,225.6" fill="#f1f0cf"/>
<polygon points="306.1,248.6 309.8,250.8 309.8,255.8 306.1,253.6" fill="#e9e7c4"/>
<polygon points="288.1,269.5 295.6,273.8 295.6,267.4 288.1,263.1" fill="#e4e6e9"/>
<polygon points="289.2,269.3 290.2,269.9 290.2,265.1 289.2,264.5" fill="#5f6368"/>
<polygon points="291.3,270.5 292.4,271.1 292.4,266.3 291.3,265.7" fill="#5f6368"/>
<polygon points="293.4,271.7 294.5,272.4 294.5,267.6 293.4,267.0" fill="#5f6368"/>
<polyline points="328.9,285.4 328.9,279.8" fill="none" stroke="#333" stroke-width="1.0"/>
<polyline points="333.7,282.7 333.7,277.0" fill="none" stroke="#333" stroke-width="1.0"/>
<polyline points="338.5,279.9 338.5,274.2" fill="none" stroke="#333" stroke-width="1.0"/>
<polyline points="327.0,288.0 340.9,279.9 340.9,271.4 327.0,279.5 327.0,288.0" fill="none" stroke="#777" stroke-width="0.5"/>
<polygon points="323.7,294.3 361.2,315.9 361.2,280.4 323.7,258.8" fill="#cbcfd4"/>
<polygon points="361.2,315.9 401.1,292.9 401.1,257.4 361.2,280.4" fill="#dde0e4"/>
<polygon points="323.7,258.8 361.2,280.4 401.1,257.4 363.6,235.8" fill="#e7eaee"/>
<polygon points="344.4,270.7 348.1,272.9 388.0,249.9 384.2,247.7" fill="#f1f0cf"/>
<polygon points="344.4,270.7 348.1,272.9 348.1,277.9 344.4,275.7" fill="#e9e7c4"/>
<polygon points="326.4,291.6 333.9,295.9 333.9,289.5 326.4,285.2" fill="#e4e6e9"/>
<polygon points="327.4,291.4 328.5,292.0 328.5,287.2 327.4,286.6" fill="#5f6368"/>
<polygon points="329.6,292.6 330.7,293.2 330.7,288.4 329.6,287.8" fill="#5f6368"/>
<polygon points="331.7,293.8 332.8,294.5 332.8,289.7 331.7,289.1" fill="#5f6368"/>
<polyline points="367.2,307.5 367.2,301.9" fill="none" stroke="#333" stroke-width="1.0"/>
<polyline points="372.0,304.8 372.0,299.1" fill="none" stroke="#333" stroke-width="1.0"/>
<polyline points="376.8,302.0 376.8,296.3" fill="none" stroke="#333" stroke-width="1.0"/>
<polyline points="365.2,310.1 379.2,302.0 379.2,293.5 365.2,301.6 365.2,310.1" fill="none" stroke="#777" stroke-width="0.5"/>
<polygon points="141.1,201.9 358.1,327.2 358.1,322.2 141.1,196.9" fill="#b0b4ba"/>
<polygon points="358.1,327.2 359.4,326.5 359.4,321.5 358.1,322.2" fill="#c8ccd1"/>
<polygon points="141.1,196.9 358.1,322.2 359.4,321.5 142.4,196.2" fill="#e4e7eb"/>
<polygon points="358.1,325.8 359.4,326.5 359.4,321.5 358.1,320.8" fill="#b0b4ba"/>
<polygon points="359.4,326.5 420.1,291.4 420.1,286.4 359.4,321.5" fill="#d2d5da"/>
<polygon points="358.1,320.8 359.4,321.5 420.1,286.4 418.8,285.7" fill="#e2e5e9"/>
<line x1="361.2" y1="243.0" x2="418.4" y2="287.4" stroke="#c3c7cd" stroke-width="2.4"/>
<polygon points="142.4,112.7 359.4,238.0 420.1,202.9 203.1,77.6" fill="#c9cbcf"/>
<polygon points="142.0,112.4 143.3,113.2 204.0,78.1 202.7,77.4" fill="#e6e9ed"/>
<polygon points="161.5,121.7 241.1,167.7 301.7,132.7 222.1,86.7" fill="#c0c3c7"/>
<polygon points="276.6,187.2 337.3,222.2 395.3,188.7 334.7,153.7" fill="#c0c3c7"/>
<polygon points="199.6,104.4 234.6,124.6 234.6,109.1 199.6,88.9" fill="#8faecd"/>
<polygon points="234.6,124.6 262.3,108.6 262.3,93.1 234.6,109.1" fill="#7595b6"/>
<polygon points="199.6,88.9 234.6,109.1 262.3,93.1 227.3,72.9" fill="#a6c4e1"/>
<polyline points="199.6,92.9 234.6,113.1 262.3,97.1" fill="none" stroke="#6d8cae" stroke-width="1"/>
<polyline points="199.6,103.8 234.6,124.0 262.3,108.0" fill="none" stroke="#b9d1ea" stroke-width="0.8"/>
<polygon points="199.6,88.9 234.6,109.1 234.6,93.6 199.6,73.4" fill="#8faecd"/>
<polygon points="234.6,109.1 262.3,93.1 262.3,77.6 234.6,93.6" fill="#7595b6"/>
<polygon points="199.6,73.4 234.6,93.6 262.3,77.6 227.3,57.4" fill="#a6c4e1"/>
<polyline points="199.6,77.4 234.6,97.6 262.3,81.6" fill="none" stroke="#6d8cae" stroke-width="1"/>
<polyline points="199.6,88.3 234.6,108.5 262.3,92.5" fill="none" stroke="#b9d1ea" stroke-width="0.8"/>
<polygon points="199.6,73.4 234.6,93.6 234.6,78.1 199.6,57.9" fill="#8faecd"/>
<polygon points="234.6,93.6 262.3,77.6 262.3,62.1 234.6,78.1" fill="#7595b6"/>
<polygon points="199.6,57.9 234.6,78.1 262.3,62.1 227.3,41.9" fill="#a6c4e1"/>
<polyline points="199.6,61.9 234.6,82.1 262.3,66.1" fill="none" stroke="#6d8cae" stroke-width="1"/>
<polyline points="199.6,72.8 234.6,93.0 262.3,77.0" fill="none" stroke="#b9d1ea" stroke-width="0.8"/>
<polygon points="170.7,123.3 205.8,143.6 205.8,128.1 170.7,107.8" fill="#8faecd"/>
<polygon points="205.8,143.6 233.5,127.6 233.5,112.1 205.8,128.1" fill="#7595b6"/>
<polygon points="170.7,107.8 205.8,128.1 233.5,112.1 198.4,91.8" fill="#a6c4e1"/>
<polyline points="170.7,111.8 205.8,132.1 233.5,116.1" fill="none" stroke="#6d8cae" stroke-width="1"/>
<polyline points="170.7,122.7 205.8,143.0 233.5,127.0" fill="none" stroke="#b9d1ea" stroke-width="0.8"/>
<polygon points="170.7,107.8 205.8,128.1 205.8,112.6 170.7,92.3" fill="#8faecd"/>
<polygon points="205.8,128.1 233.5,112.1 233.5,96.6 205.8,112.6" fill="#7595b6"/>
<polygon points="170.7,92.3 205.8,112.6 233.5,96.6 198.4,76.3" fill="#a6c4e1"/>
<polyline points="170.7,96.3 205.8,116.6 233.5,100.6" fill="none" stroke="#6d8cae" stroke-width="1"/>
<polyline points="170.7,107.2 205.8,127.5 233.5,111.5" fill="none" stroke="#b9d1ea" stroke-width="0.8"/>
<polygon points="235.6,127.4 270.7,147.6 270.7,132.1 235.6,111.9" fill="#8faecd"/>
<polygon points="270.7,147.6 298.4,131.6 298.4,116.1 270.7,132.1" fill="#7595b6"/>
<polygon points="235.6,111.9 270.7,132.1 298.4,116.1 263.3,95.9" fill="#a6c4e1"/>
<polyline points="235.6,115.9 270.7,136.1 298.4,120.1" fill="none" stroke="#6d8cae" stroke-width="1"/>
<polyline points="235.6,126.8 270.7,147.0 298.4,131.0" fill="none" stroke="#b9d1ea" stroke-width="0.8"/>
<polygon points="235.6,111.9 270.7,132.1 270.7,116.6 235.6,96.4" fill="#8faecd"/>
<polygon points="270.7,132.1 298.4,116.1 298.4,100.6 270.7,116.6" fill="#7595b6"/>
<polygon points="235.6,96.4 270.7,116.6 298.4,100.6 263.3,80.4" fill="#a6c4e1"/>
<polyline points="235.6,100.4 270.7,120.6 298.4,104.6" fill="none" stroke="#6d8cae" stroke-width="1"/>
<polyline points="235.6,111.3 270.7,131.5 298.4,115.5" fill="none" stroke="#b9d1ea" stroke-width="0.8"/>
<polygon points="207.4,146.1 242.5,166.3 242.5,150.8 207.4,130.6" fill="#8faecd"/>
<polygon points="242.5,166.3 270.2,150.3 270.2,134.8 242.5,150.8" fill="#7595b6"/>
<polygon points="207.4,130.6 242.5,150.8 270.2,134.8 235.2,114.6" fill="#a6c4e1"/>
<polyline points="207.4,134.6 242.5,154.8 270.2,138.8" fill="none" stroke="#6d8cae" stroke-width="1"/>
<polyline points="207.4,145.5 242.5,165.7 270.2,149.7" fill="none" stroke="#b9d1ea" stroke-width="0.8"/>
<polygon points="312.1,172.7 336.4,186.7 336.4,180.7 312.1,166.7" fill="#1a5899"/>
<polygon points="336.4,186.7 360.6,172.7 360.6,166.7 336.4,180.7" fill="#134c8a"/>
<polygon points="312.1,166.7 336.4,180.7 360.6,166.7 336.4,152.7" fill="#1c5fa0"/>
<polyline points="312.1,171.9 336.4,185.9 360.6,171.9" fill="none" stroke="#0e3f78" stroke-width="1.2"/>
<polygon points="312.1,166.7 336.4,180.7 336.4,174.7 312.1,160.7" fill="#1a5899"/>
<polygon points="336.4,180.7 360.6,166.7 360.6,160.7 336.4,174.7" fill="#134c8a"/>
<polygon points="312.1,160.7 336.4,174.7 360.6,160.7 336.4,146.7" fill="#1c5fa0"/>
<polyline points="312.1,165.9 336.4,179.9 360.6,165.9" fill="none" stroke="#0e3f78" stroke-width="1.2"/>
<polygon points="312.1,160.7 336.4,174.7 336.4,168.7 312.1,154.7" fill="#1a5899"/>
<polygon points="336.4,174.7 360.6,160.7 360.6,154.7 336.4,168.7" fill="#134c8a"/>
<polygon points="312.1,154.7 336.4,168.7 360.6,154.7 336.4,140.7" fill="#1c5fa0"/>
<polyline points="312.1,159.9 336.4,173.9 360.6,159.9" fill="none" stroke="#0e3f78" stroke-width="1.2"/>
<polygon points="312.1,154.7 336.4,168.7 336.4,162.7 312.1,148.7" fill="#1a5899"/>
<polygon points="336.4,168.7 360.6,154.7 360.6,148.7 336.4,162.7" fill="#134c8a"/>
<polygon points="312.1,148.7 336.4,162.7 360.6,148.7 336.4,134.7" fill="#1c5fa0"/>
<polyline points="312.1,153.9 336.4,167.9 360.6,153.9" fill="none" stroke="#0e3f78" stroke-width="1.2"/>
<polygon points="312.1,148.7 336.4,162.7 336.4,156.7 312.1,142.7" fill="#1a5899"/>
<polygon points="336.4,162.7 360.6,148.7 360.6,142.7 336.4,156.7" fill="#134c8a"/>
<polygon points="312.1,142.7 336.4,156.7 360.6,142.7 336.4,128.7" fill="#1c5fa0"/>
<polyline points="312.1,147.9 336.4,161.9 360.6,147.9" fill="none" stroke="#0e3f78" stroke-width="1.2"/>
<polygon points="312.1,142.7 336.4,156.7 336.4,150.7 312.1,136.7" fill="#1a5899"/>
<polygon points="336.4,156.7 360.6,142.7 360.6,136.7 336.4,150.7" fill="#134c8a"/>
<polygon points="312.1,136.7 336.4,150.7 360.6,136.7 336.4,122.7" fill="#1c5fa0"/>
<polyline points="312.1,141.9 336.4,155.9 360.6,141.9" fill="none" stroke="#0e3f78" stroke-width="1.2"/>
<polygon points="312.1,136.7 336.4,150.7 336.4,144.7 312.1,130.7" fill="#1a5899"/>
<polygon points="336.4,150.7 360.6,136.7 360.6,130.7 336.4,144.7" fill="#134c8a"/>
<polygon points="312.1,130.7 336.4,144.7 360.6,130.7 336.4,116.7" fill="#1c5fa0"/>
<polyline points="312.1,135.9 336.4,149.9 360.6,135.9" fill="none" stroke="#0e3f78" stroke-width="1.2"/>
<polygon points="286.2,187.7 310.4,201.7 310.4,195.7 286.2,181.7" fill="#1a5899"/>
<polygon points="310.4,201.7 334.7,187.7 334.7,181.7 310.4,195.7" fill="#134c8a"/>
<polygon points="286.2,181.7 310.4,195.7 334.7,181.7 310.4,167.7" fill="#1c5fa0"/>
<polyline points="286.2,186.9 310.4,200.9 334.7,186.9" fill="none" stroke="#0e3f78" stroke-width="1.2"/>
<polygon points="286.2,181.7 310.4,195.7 310.4,189.7 286.2,175.7" fill="#1a5899"/>
<polygon points="310.4,195.7 334.7,181.7 334.7,175.7 310.4,189.7" fill="#134c8a"/>
<polygon points="286.2,175.7 310.4,189.7 334.7,175.7 310.4,161.7" fill="#1c5fa0"/>
<polyline points="286.2,180.9 310.4,194.9 334.7,180.9" fill="none" stroke="#0e3f78" stroke-width="1.2"/>
<polygon points="286.2,175.7 310.4,189.7 310.4,183.7 286.2,169.7" fill="#1a5899"/>
<polygon points="310.4,189.7 334.7,175.7 334.7,169.7 310.4,183.7" fill="#134c8a"/>
<polygon points="286.2,169.7 310.4,183.7 334.7,169.7 310.4,155.7" fill="#1c5fa0"/>
<polyline points="286.2,174.9 310.4,188.9 334.7,174.9" fill="none" stroke="#0e3f78" stroke-width="1.2"/>
<polygon points="286.2,169.7 310.4,183.7 310.4,177.7 286.2,163.7" fill="#1a5899"/>
<polygon points="310.4,183.7 334.7,169.7 334.7,163.7 310.4,177.7" fill="#134c8a"/>
<polygon points="286.2,163.7 310.4,177.7 334.7,163.7 310.4,149.7" fill="#1c5fa0"/>
<polyline points="286.2,168.9 310.4,182.9 334.7,168.9" fill="none" stroke="#0e3f78" stroke-width="1.2"/>
<polygon points="286.2,163.7 310.4,177.7 310.4,171.7 286.2,157.7" fill="#1a5899"/>
<polygon points="310.4,177.7 334.7,163.7 334.7,157.7 310.4,171.7" fill="#134c8a"/>
<polygon points="286.2,157.7 310.4,171.7 334.7,157.7 310.4,143.7" fill="#1c5fa0"/>
<polyline points="286.2,162.9 310.4,176.9 334.7,162.9" fill="none" stroke="#0e3f78" stroke-width="1.2"/>
<polygon points="286.2,157.7 310.4,171.7 310.4,165.7 286.2,151.7" fill="#1a5899"/>
<polygon points="310.4,171.7 334.7,157.7 334.7,151.7 310.4,165.7" fill="#134c8a"/>
<polygon points="286.2,151.7 310.4,165.7 334.7,151.7 310.4,137.7" fill="#1c5fa0"/>
<polyline points="286.2,156.9 310.4,170.9 334.7,156.9" fill="none" stroke="#0e3f78" stroke-width="1.2"/>
<polygon points="339.9,188.7 364.1,202.7 364.1,196.7 339.9,182.7" fill="#1a5899"/>
<polygon points="364.1,202.7 388.4,188.7 388.4,182.7 364.1,196.7" fill="#134c8a"/>
<polygon points="339.9,182.7 364.1,196.7 388.4,182.7 364.1,168.7" fill="#1c5fa0"/>
<polyline points="339.9,187.9 364.1,201.9 388.4,187.9" fill="none" stroke="#0e3f78" stroke-width="1.2"/>
<polygon points="339.9,182.7 364.1,196.7 364.1,190.7 339.9,176.7" fill="#1a5899"/>
<polygon points="364.1,196.7 388.4,182.7 388.4,176.7 364.1,190.7" fill="#134c8a"/>
<polygon points="339.9,176.7 364.1,190.7 388.4,176.7 364.1,162.7" fill="#1c5fa0"/>
<polyline points="339.9,181.9 364.1,195.9 388.4,181.9" fill="none" stroke="#0e3f78" stroke-width="1.2"/>
<polygon points="339.9,176.7 364.1,190.7 364.1,184.7 339.9,170.7" fill="#1a5899"/>
<polygon points="364.1,190.7 388.4,176.7 388.4,170.7 364.1,184.7" fill="#134c8a"/>
<polygon points="339.9,170.7 364.1,184.7 388.4,170.7 364.1,156.7" fill="#1c5fa0"/>
<polyline points="339.9,175.9 364.1,189.9 388.4,175.9" fill="none" stroke="#0e3f78" stroke-width="1.2"/>
<polygon points="339.9,170.7 364.1,184.7 364.1,178.7 339.9,164.7" fill="#1a5899"/>
<polygon points="364.1,184.7 388.4,170.7 388.4,164.7 364.1,178.7" fill="#134c8a"/>
<polygon points="339.9,164.7 364.1,178.7 388.4,164.7 364.1,150.7" fill="#1c5fa0"/>
<polyline points="339.9,169.9 364.1,183.9 388.4,169.9" fill="none" stroke="#0e3f78" stroke-width="1.2"/>
<polygon points="339.9,164.7 364.1,178.7 364.1,172.7 339.9,158.7" fill="#1a5899"/>
<polygon points="364.1,178.7 388.4,164.7 388.4,158.7 364.1,172.7" fill="#134c8a"/>
<polygon points="339.9,158.7 364.1,172.7 388.4,158.7 364.1,144.7" fill="#1c5fa0"/>
<polyline points="339.9,163.9 364.1,177.9 388.4,163.9" fill="none" stroke="#0e3f78" stroke-width="1.2"/>
<polygon points="312.1,204.7 336.4,218.7 336.4,212.7 312.1,198.7" fill="#1a5899"/>
<polygon points="336.4,218.7 360.6,204.7 360.6,198.7 336.4,212.7" fill="#134c8a"/>
<polygon points="312.1,198.7 336.4,212.7 360.6,198.7 336.4,184.7" fill="#1c5fa0"/>
<polyline points="312.1,203.9 336.4,217.9 360.6,203.9" fill="none" stroke="#0e3f78" stroke-width="1.2"/>
<polygon points="312.1,198.7 336.4,212.7 336.4,206.7 312.1,192.7" fill="#1a5899"/>
<polygon points="336.4,212.7 360.6,198.7 360.6,192.7 336.4,206.7" fill="#134c8a"/>
<polygon points="312.1,192.7 336.4,206.7 360.6,192.7 336.4,178.7" fill="#1c5fa0"/>
<polyline points="312.1,197.9 336.4,211.9 360.6,197.9" fill="none" stroke="#0e3f78" stroke-width="1.2"/>
<polygon points="141.1,118.4 358.1,243.8 358.1,238.8 141.1,113.4" fill="#b0b4ba"/>
<polygon points="358.1,243.8 359.4,243.0 359.4,238.0 358.1,238.8" fill="#c8ccd1"/>
<polygon points="141.1,113.4 358.1,238.8 359.4,238.0 142.4,112.7" fill="#e4e7eb"/>
<polygon points="358.1,242.2 359.4,243.0 359.4,238.0 358.1,237.2" fill="#b0b4ba"/>
<polygon points="359.4,243.0 420.1,207.9 420.1,202.9 359.4,238.0" fill="#d2d5da"/>
<polygon points="358.1,237.2 359.4,238.0 420.1,202.9 418.8,202.2" fill="#e2e5e9"/>
<polygon points="358.1,184.6 359.4,185.3 359.4,182.3 358.1,181.6" fill="#c8ccd1"/>
<polygon points="359.4,185.3 420.1,150.2 420.1,147.2 359.4,182.3" fill="#d5d9de"/>
<polygon points="358.1,181.6 359.4,182.3 420.1,147.2 418.8,146.5" fill="#e8eaee"/>
<polygon points="138.9,295.5 142.4,297.5 142.4,53.0 138.9,51.0" fill="#93979e"/>
<polygon points="142.4,297.5 145.9,295.5 145.9,51.0 142.4,53.0" fill="#a3a7ae"/>
<polygon points="138.9,51.0 142.4,53.0 145.9,51.0 142.4,49.0" fill="#c4c8cd"/>
<line x1="142.4" y1="297.0" x2="142.4" y2="53.0" stroke="#cdd1d6" stroke-width="1.1"/>
<path d="M139.4,289.2L142.4,291.0L145.4,289.2M139.4,280.9L142.4,282.7L145.4,280.9M139.4,272.6L142.4,274.4L145.4,272.6M139.4,264.4L142.4,266.1L145.4,264.4M139.4,256.1L142.4,257.8L145.4,256.1M139.4,247.8L142.4,249.5L145.4,247.8M139.4,239.4L142.4,241.2L145.4,239.4M139.4,231.2L142.4,232.9L145.4,231.2M139.4,222.9L142.4,224.6L145.4,222.9M139.4,214.6L142.4,216.3L145.4,214.6M139.4,206.2L142.4,208.0L145.4,206.2M139.4,198.0L142.4,199.7L145.4,198.0M139.4,189.7L142.4,191.4L145.4,189.7M139.4,181.4L142.4,183.1L145.4,181.4M139.4,173.1L142.4,174.8L145.4,173.1M139.4,164.8L142.4,166.5L145.4,164.8M139.4,156.4L142.4,158.2L145.4,156.4M139.4,148.1L142.4,149.9L145.4,148.1M139.4,139.8L142.4,141.6L145.4,139.8M139.4,131.5L142.4,133.3L145.4,131.5M139.4,123.2L142.4,125.0L145.4,123.2M139.4,114.9L142.4,116.7L145.4,114.9M139.4,106.6L142.4,108.4L145.4,106.6M139.4,98.3L142.4,100.1L145.4,98.3M139.4,90.0L142.4,91.8L145.4,90.0M139.4,81.7L142.4,83.5L145.4,81.7M139.4,73.4L142.4,75.2L145.4,73.4M139.4,65.1L142.4,66.9L145.4,65.1M139.4,56.8L142.4,58.6L145.4,56.8" stroke="#c3c7cc" stroke-width="0.9" fill="none"/>
<polygon points="138.9,301.0 142.4,303.0 142.4,297.5 138.9,295.5" fill="#d90f0f"/>
<polygon points="142.4,303.0 145.9,301.0 145.9,295.5 142.4,297.5" fill="#ee2020"/>
<polygon points="138.9,295.5 142.4,297.5 145.9,295.5 142.4,293.5" fill="#ff3a3a"/>
<polygon points="138.9,51.0 142.4,53.0 142.4,45.0 138.9,43.0" fill="#dc1010"/>
<polygon points="142.4,53.0 145.9,51.0 145.9,43.0 142.4,45.0" fill="#f02525"/>
<polygon points="138.9,43.0 142.4,45.0 145.9,43.0 142.4,41.0" fill="#ff3d3d"/>
<polygon points="356.0,420.8 359.4,422.8 359.4,178.3 356.0,176.3" fill="#93979e"/>
<polygon points="359.4,422.8 362.9,420.8 362.9,176.3 359.4,178.3" fill="#a3a7ae"/>
<polygon points="356.0,176.3 359.4,178.3 362.9,176.3 359.4,174.3" fill="#c4c8cd"/>
<line x1="359.4" y1="422.3" x2="359.4" y2="178.3" stroke="#cdd1d6" stroke-width="1.1"/>
<path d="M356.4,414.6L359.4,416.3L362.5,414.6M356.4,406.2L359.4,408.0L362.5,406.2M356.4,397.9L359.4,399.7L362.5,397.9M356.4,389.6L359.4,391.4L362.5,389.6M356.4,381.4L359.4,383.1L362.5,381.4M356.4,373.1L359.4,374.8L362.5,373.1M356.4,364.8L359.4,366.5L362.5,364.8M356.4,356.5L359.4,358.2L362.5,356.5M356.4,348.2L359.4,349.9L362.5,348.2M356.4,339.9L359.4,341.6L362.5,339.9M356.4,331.6L359.4,333.3L362.5,331.6M356.4,323.2L359.4,325.0L362.5,323.2M356.4,315.0L359.4,316.7L362.5,315.0M356.4,306.7L359.4,308.4L362.5,306.7M356.4,298.4L359.4,300.1L362.5,298.4M356.4,290.1L359.4,291.8L362.5,290.1M356.4,281.8L359.4,283.5L362.5,281.8M356.4,273.4L359.4,275.2L362.5,273.4M356.4,265.1L359.4,266.9L362.5,265.1M356.4,256.8L359.4,258.6L362.5,256.8M356.4,248.5L359.4,250.3L362.5,248.5M356.4,240.2L359.4,242.0L362.5,240.2M356.4,231.9L359.4,233.7L362.5,231.9M356.4,223.6L359.4,225.4L362.5,223.6M356.4,215.3L359.4,217.1L362.5,215.3M356.4,207.0L359.4,208.8L362.5,207.0M356.4,198.7L359.4,200.5L362.5,198.7M356.4,190.4L359.4,192.2L362.5,190.4M356.4,182.1L359.4,183.9L362.5,182.1" stroke="#c3c7cc" stroke-width="0.9" fill="none"/>
<polygon points="356.0,426.3 359.4,428.3 359.4,422.8 356.0,420.8" fill="#d90f0f"/>
<polygon points="359.4,428.3 362.9,426.3 362.9,420.8 359.4,422.8" fill="#ee2020"/>
<polygon points="356.0,420.8 359.4,422.8 362.9,420.8 359.4,418.8" fill="#ff3a3a"/>
<polygon points="356.0,176.3 359.4,178.3 359.4,170.3 356.0,168.3" fill="#dc1010"/>
<polygon points="359.4,178.3 362.9,176.3 362.9,168.3 359.4,170.3" fill="#f02525"/>
<polygon points="356.0,168.3 359.4,170.3 362.9,168.3 359.4,166.3" fill="#ff3d3d"/></g>
<polygon points="-60.0,326.4 32.3,271.0 166.2,350.7 74.4,405.0" fill="#cfe4fa"/>
<polygon points="-60.0,326.4 74.4,405.0 166.2,350.7 166.2,354.5 74.4,409.0 -60.0,330.5" fill="#94c6f5"/>
<polygon points="-58.0,328.0 74.4,406.5 74.4,409.0 -60.0,330.5" fill="#a9d2f8"/>
<polygon points="0.2,298.7 33.4,281.0 149.6,347.4 106.5,372.9" fill="#bcdbfa"/>
<polygon points="1.3,298.8 7.8,303.3 13.4,300.4 6.8,295.8" fill="#8ac1f6"/>
<polygon points="7.9,295.2 14.4,299.8 20.0,296.8 13.5,292.3" fill="#8ac1f6"/>
<polygon points="14.5,291.7 21.1,296.3 26.7,293.3 20.1,288.7" fill="#8ac1f6"/>
<polygon points="21.2,288.2 27.7,292.7 33.3,289.8 26.8,285.2" fill="#8ac1f6"/>
<polygon points="27.8,284.6 34.4,289.2 39.9,286.2 33.4,281.7" fill="#8ac1f6"/>
<polygon points="8.9,304.1 15.4,308.6 21.0,305.7 14.4,301.1" fill="#8ac1f6"/>
<polygon points="15.5,300.5 22.0,305.1 27.6,302.1 21.1,297.6" fill="#8ac1f6"/>
<polygon points="22.1,297.0 28.7,301.6 34.2,298.6 27.7,294.0" fill="#8ac1f6"/>
<polygon points="28.8,293.5 35.3,298.0 40.9,295.1 34.4,290.5" fill="#8ac1f6"/>
<polygon points="35.4,289.9 41.9,294.5 47.5,291.5 41.0,287.0" fill="#8ac1f6"/>
<polygon points="16.4,309.4 23.0,313.9 28.6,311.0 22.0,306.4" fill="#8ac1f6"/>
<polygon points="23.1,305.8 29.6,310.4 35.2,307.4 28.7,302.9" fill="#8ac1f6"/>
<polygon points="29.7,302.3 36.3,306.9 41.8,303.9 35.3,299.3" fill="#8ac1f6"/>
<polygon points="36.4,298.8 42.9,303.3 48.5,300.4 41.9,295.8" fill="#8ac1f6"/>
<polygon points="43.0,295.2 49.5,299.8 55.1,296.8 48.6,292.3" fill="#8ac1f6"/>
<polygon points="24.0,314.7 30.6,319.2 36.1,316.3 29.6,311.7" fill="#8ac1f6"/>
<polygon points="30.7,311.1 37.2,315.7 42.8,312.7 36.3,308.2" fill="#8ac1f6"/>
<polygon points="37.3,307.6 43.9,312.2 49.4,309.2 42.9,304.6" fill="#8ac1f6"/>
<polygon points="44.0,304.1 50.5,308.6 56.1,305.7 49.5,301.1" fill="#8ac1f6"/>
<polygon points="50.6,300.5 57.1,305.1 62.7,302.1 56.2,297.6" fill="#8ac1f6"/>
<polygon points="31.6,320.0 38.2,324.5 43.7,321.6 37.2,317.0" fill="#8ac1f6"/>
<polygon points="38.3,316.4 44.8,321.0 50.4,318.0 43.9,313.5" fill="#8ac1f6"/>
<polygon points="44.9,312.9 51.4,317.5 57.0,314.5 50.5,309.9" fill="#8ac1f6"/>
<polygon points="51.6,309.4 58.1,313.9 63.7,311.0 57.1,306.4" fill="#8ac1f6"/>
<polygon points="58.2,305.8 64.7,310.4 70.3,307.4 63.8,302.9" fill="#8ac1f6"/>
<polygon points="39.2,325.3 45.8,329.8 51.3,326.9 44.8,322.3" fill="#8ac1f6"/>
<polygon points="45.9,321.7 52.4,326.3 58.0,323.3 51.4,318.8" fill="#8ac1f6"/>
<polygon points="52.5,318.2 59.0,322.8 64.6,319.8 58.1,315.2" fill="#8ac1f6"/>
<polygon points="59.1,314.7 65.7,319.2 71.3,316.3 64.7,311.7" fill="#8ac1f6"/>
<polygon points="65.8,311.1 72.3,315.7 77.9,312.7 71.4,308.2" fill="#8ac1f6"/>
<polygon points="46.8,330.6 53.3,335.1 58.9,332.2 52.4,327.6" fill="#8ac1f6"/>
<polygon points="53.5,327.0 60.0,331.6 65.6,328.6 59.0,324.1" fill="#8ac1f6"/>
<polygon points="60.1,323.5 66.6,328.1 72.2,325.1 65.7,320.5" fill="#8ac1f6"/>
<polygon points="66.7,320.0 73.3,324.5 78.8,321.6 72.3,317.0" fill="#8ac1f6"/>
<polygon points="73.4,316.4 79.9,321.0 85.5,318.0 79.0,313.5" fill="#8ac1f6"/>
<polygon points="54.4,335.9 60.9,340.4 66.5,337.5 60.0,332.9" fill="#8ac1f6"/>
<polygon points="61.1,332.3 67.6,336.9 73.2,333.9 66.6,329.4" fill="#8ac1f6"/>
<polygon points="67.7,328.8 74.2,333.4 79.8,330.4 73.3,325.8" fill="#8ac1f6"/>
<polygon points="74.3,325.3 80.9,329.8 86.4,326.9 79.9,322.3" fill="#8ac1f6"/>
<polygon points="81.0,321.7 87.5,326.3 93.1,323.3 86.6,318.8" fill="#8ac1f6"/>
<polygon points="62.0,341.2 68.5,345.7 74.1,342.8 67.6,338.2" fill="#8ac1f6"/>
<polygon points="68.6,337.6 75.2,342.2 80.8,339.2 74.2,334.7" fill="#8ac1f6"/>
<polygon points="75.3,334.1 81.8,338.7 87.4,335.7 80.9,331.1" fill="#8ac1f6"/>
<polygon points="81.9,330.6 88.5,335.1 94.0,332.2 87.5,327.6" fill="#8ac1f6"/>
<polygon points="88.6,327.0 95.1,331.6 100.7,328.6 94.1,324.1" fill="#8ac1f6"/>
<polygon points="69.6,346.5 76.1,351.0 81.7,348.1 75.2,343.5" fill="#8ac1f6"/>
<polygon points="76.2,342.9 82.8,347.5 88.3,344.5 81.8,340.0" fill="#8ac1f6"/>
<polygon points="82.9,339.4 89.4,344.0 95.0,341.0 88.5,336.4" fill="#8ac1f6"/>
<polygon points="89.5,335.9 96.0,340.4 101.6,337.5 95.1,332.9" fill="#8ac1f6"/>
<polygon points="96.2,332.3 102.7,336.9 108.3,333.9 101.7,329.4" fill="#8ac1f6"/>
<polygon points="77.2,351.8 83.7,356.3 89.3,353.4 82.8,348.8" fill="#8ac1f6"/>
<polygon points="83.8,348.2 90.4,352.8 95.9,349.8 89.4,345.3" fill="#8ac1f6"/>
<polygon points="90.5,344.7 97.0,349.3 102.6,346.3 96.0,341.7" fill="#8ac1f6"/>
<polygon points="97.1,341.2 103.6,345.7 109.2,342.8 102.7,338.2" fill="#8ac1f6"/>
<polygon points="103.8,337.6 110.3,342.2 115.9,339.2 109.3,334.7" fill="#8ac1f6"/>
<polygon points="84.8,357.1 91.3,361.6 96.9,358.7 90.4,354.1" fill="#8ac1f6"/>
<polygon points="91.4,353.5 98.0,358.1 103.5,355.1 97.0,350.6" fill="#8ac1f6"/>
<polygon points="98.1,350.0 104.6,354.6 110.2,351.6 103.6,347.0" fill="#8ac1f6"/>
<polygon points="104.7,346.5 111.2,351.0 116.8,348.1 110.3,343.5" fill="#8ac1f6"/>
<polygon points="111.3,342.9 117.9,347.5 123.5,344.5 116.9,340.0" fill="#8ac1f6"/>
<polygon points="92.4,362.4 98.9,366.9 104.5,364.0 98.0,359.4" fill="#8ac1f6"/>
<polygon points="99.0,358.8 105.5,363.4 111.1,360.4 104.6,355.9" fill="#8ac1f6"/>
<polygon points="105.7,355.3 112.2,359.9 117.8,356.9 111.2,352.3" fill="#8ac1f6"/>
<polygon points="112.3,351.8 118.8,356.3 124.4,353.4 117.9,348.8" fill="#8ac1f6"/>
<polygon points="118.9,348.2 125.5,352.8 131.0,349.8 124.5,345.3" fill="#8ac1f6"/>
<polygon points="100.0,367.7 106.5,372.2 112.1,369.3 105.5,364.7" fill="#8ac1f6"/>
<polygon points="106.6,364.1 113.1,368.7 118.7,365.7 112.2,361.2" fill="#8ac1f6"/>
<polygon points="113.2,360.6 119.8,365.2 125.4,362.2 118.8,357.6" fill="#8ac1f6"/>
<polygon points="119.9,357.1 126.4,361.6 132.0,358.7 125.5,354.1" fill="#8ac1f6"/>
<polygon points="126.5,353.5 133.1,358.1 138.6,355.1 132.1,350.6" fill="#8ac1f6"/>
<polygon points="2.4,343.0 20.1,331.9 61.1,356.3 33.4,371.8" fill="#b7d7f9"/>
<polygon points="31.7,161.5 169.8,238.4 171.0,345.2 31.7,269.7" fill="#86bff6" stroke="#86bff6" stroke-width="2" stroke-linejoin="round"/>
<polygon points="30.7,161.5 33.5,161.0 33.5,270.5 30.7,269.2" fill="#a9d3f9"/>
<polygon points="31.7,161.5 35.0,159.5 172.5,236.5 169.8,238.4" fill="#d3e7fb" stroke="#d3e7fb" stroke-width="1" stroke-linejoin="round"/>
<polygon points="169.8,238.4 172.5,236.5 173.5,343.5 171.0,345.2" fill="#b4d8fa"/>
<polygon points="36.9,172.7 162.8,242.3 162.8,337.4 36.9,272.3" fill="url(#scr)"/>
<polyline points="47.9,192.8 61.2,214.2 74.2,221.4 87.8,236.3 100.8,233.7 113.8,267.6 126.8,272.3 139.9,288.7 153.4,306.7" fill="none" stroke="#cfe6f2" stroke-width="1.4"/>
<ellipse cx="47.9" cy="192.8" rx="2.6" ry="2.9" fill="#1f5bb8" stroke="#cfe6f2" stroke-width="1.2"/>
<ellipse cx="61.2" cy="214.2" rx="2.6" ry="2.9" fill="#1f5bb8" stroke="#cfe6f2" stroke-width="1.2"/>
<ellipse cx="74.2" cy="221.4" rx="2.6" ry="2.9" fill="#1f5bb8" stroke="#cfe6f2" stroke-width="1.2"/>
<ellipse cx="87.8" cy="236.3" rx="2.6" ry="2.9" fill="#1f5bb8" stroke="#cfe6f2" stroke-width="1.2"/>
<ellipse cx="100.8" cy="233.7" rx="2.6" ry="2.9" fill="#1f5bb8" stroke="#cfe6f2" stroke-width="1.2"/>
<ellipse cx="113.8" cy="267.6" rx="2.6" ry="2.9" fill="#1f5bb8" stroke="#cfe6f2" stroke-width="1.2"/>
<ellipse cx="126.8" cy="272.3" rx="2.6" ry="2.9" fill="#1f5bb8" stroke="#cfe6f2" stroke-width="1.2"/>
<ellipse cx="139.9" cy="288.7" rx="2.6" ry="2.9" fill="#1f5bb8" stroke="#cfe6f2" stroke-width="1.2"/>
<ellipse cx="153.4" cy="306.7" rx="2.6" ry="2.9" fill="#1f5bb8" stroke="#cfe6f2" stroke-width="1.2"/>
<polyline points="47.9,240.5 61.2,236.6 74.2,250.6 87.8,250.6 100.8,277.0 113.8,290.0 126.8,309.3 139.9,310.0 153.4,315.3" fill="none" stroke="#cfe6f2" stroke-width="1.4"/>
<ellipse cx="47.9" cy="240.5" rx="2.6" ry="2.9" fill="#1f5bb8" stroke="#cfe6f2" stroke-width="1.2"/>
<ellipse cx="61.2" cy="236.6" rx="2.6" ry="2.9" fill="#1f5bb8" stroke="#cfe6f2" stroke-width="1.2"/>
<ellipse cx="74.2" cy="250.6" rx="2.6" ry="2.9" fill="#1f5bb8" stroke="#cfe6f2" stroke-width="1.2"/>
<ellipse cx="87.8" cy="250.6" rx="2.6" ry="2.9" fill="#1f5bb8" stroke="#cfe6f2" stroke-width="1.2"/>
<ellipse cx="100.8" cy="277.0" rx="2.6" ry="2.9" fill="#1f5bb8" stroke="#cfe6f2" stroke-width="1.2"/>
<ellipse cx="113.8" cy="290.0" rx="2.6" ry="2.9" fill="#1f5bb8" stroke="#cfe6f2" stroke-width="1.2"/>
<ellipse cx="126.8" cy="309.3" rx="2.6" ry="2.9" fill="#1f5bb8" stroke="#cfe6f2" stroke-width="1.2"/>
<ellipse cx="139.9" cy="310.0" rx="2.6" ry="2.9" fill="#1f5bb8" stroke="#cfe6f2" stroke-width="1.2"/>
<ellipse cx="153.4" cy="315.3" rx="2.6" ry="2.9" fill="#1f5bb8" stroke="#cfe6f2" stroke-width="1.2"/>
<polygon points="86.4,209.7 99.5,217.5 99.5,225.4 97.5,224.2 97.0,227.0 95.0,223.0 86.4,217.5" fill="#2ee82e"/>
<polygon points="59.6,252.7 73.4,259.2 73.4,268.4 59.6,260.5" fill="#e84a5f"/>

<ellipse cx="-15.6" cy="401.6" rx="26" ry="12.5" transform="rotate(24 -15.6 401.6)" fill="#cccccc"/>
<path d="M-27.5,360 L-29,371.9 L-28.5,381.8 L-27.5,389.7 L-23.5,389.7 L-23,383.8 L-20.5,372.9 L-18,363 Z" fill="#be9064"/>
<path d="M-20.5,362 L-18,363 L-20.5,372.9 L-23,383.8 L-23.5,389.7 L-24.5,389.7 L-24.5,383 L-22.5,372 Z" fill="#a0744b"/>
<path d="M-10.6,365 L-13.1,381.8 L-12.6,392.7 L-9.6,401.6 L-4.7,403.6 L-4.2,394.7 L-2.7,381.8 L-0.7,365.9 Z" fill="#be9064"/>
<path d="M-3.5,365.5 L-0.7,365.9 L-2.7,381.8 L-4.2,394.7 L-4.7,403.6 L-6,403 L-6,394 L-5,381 Z" fill="#a0744b"/>
<path d="M-31.9,391.7 L-27.5,388.7 L-24.5,391.7 L-22.5,388.2 L-22,393.7 L-24.5,396.1 L-29.4,394.7 L-30.4,399.6 L-31.4,397.6 L-31.9,393.7 Z" fill="#0c1838"/>
<path d="M-14.6,400.6 L-12.1,399.1 L-4.7,405.5 L2.7,404.6 L2.2,407.5 L-3.7,410.5 L-8.7,408.5 L-12.6,406.5 L-13.6,411.5 L-14.6,406.5 Z" fill="#0c1838"/>
<path d="M-26.2,339.2 L2.5,343.3 L1.8,364.2 L-11,365.2 L-24.5,362 Z" fill="#8f83e8"/>
<path d="M-11,343.8 L2.5,343.3 L1.8,364.2 L-11,365.2 Z" fill="#7a69d6"/>
<path d="M-26.6,291.25 L-19.3,293.3 L-9.9,296.5 L1.5,302 L2.5,343.3 L-12,344.4 L-26.2,340.2 L-26.6,326.7 L-23.5,320.4 L-25.5,310 L-28.25,297.5 Z" fill="#243f68"/>
<path d="M-9.9,304.8 L1.5,302 L2.5,343.3 L-11,343.8 Z" fill="#132c55"/>
<path d="M-7.5,300.9 L2,304 L9.1,309.8 L12.2,317 L10.1,321.6 L1,317.5 L-5,308 Z" fill="#1f3a64"/>
<path d="M8,313.5 L11.8,314.5 L11.2,317.5 L8.5,316.5 Z" fill="#eeb28f"/>
<path d="M-8.9,280.8 L-4.7,282 L-4.7,290.2 L-8,293 L-10,288 Z" fill="#eeb28f"/>
<path d="M-15.1,270.8 C-11,270.6 -7,271.5 -5.3,278.75 L-6.2,286 L-8.9,291.25 L-9.9,297.5 L-12,304.8 L-17.2,306.25 L-23.5,302.7 L-27.6,298.5 L-26.6,291.25 L-23.5,285 L-22.4,276.7 C-21,272.5 -18,271 -15.1,270.8 Z" fill="#7b2e45"/>
<path d="M-20,281 C-21,289 -19,296 -17,303 M-15,279 C-15,288 -13,296 -13.5,303" stroke="#69243a" stroke-width="0.8" fill="none"/>

</g>
</defs>
<use href="#tile" x="0" y="0"/>
<use href="#tile" x="502" y="0"/>
<use href="#tile" x="1004" y="0"/>
<use href="#tile" x="1506" y="0"/>
<use href="#tile" x="0" y="436"/>
<use href="#tile" x="502" y="436"/>
<use href="#tile" x="1004" y="436"/>
<use href="#tile" x="1506" y="436"/>
</svg>
<div class="topline"></div>
<div class="abs" id="logo"><span class="t" id="logot" style="transform:scaleX(1.142)">Inventory Application</span></div>
<div class="abs" id="box"></div>
<div class="abs" id="msg"><span class="t" id="msgt" style="transform:scaleX(1.13)">Sign in to start your session</span></div>
<div class="inp" style="top:223px"></div>
<div class="abs ph" style="left:536.5px;top:232px"><span class="t" id="pe" style="transform:scaleX(1.094)">Email</span></div>
<svg class="abs" style="left:819px;top:234px" width="14" height="12" viewBox="0 0 14 12">
<path fill="#777" d="M0.8,0 H13 L6.9,6.5 Z M0.2,3.1 L2.7,5.9 L0.2,8.7 Z M13.8,3.1 L11.4,5.9 L13.8,8.7 Z M0.8,11.8 L4.6,7.75 L6.9,9.3 L9.25,7.75 L13,11.8 Z"/>
</svg>
<div class="inp" style="top:272px"></div>
<div class="abs ph" style="left:536.5px;top:281px"><span class="t" id="pp" style="transform:scaleX(1.053)">Password</span></div>
<svg class="abs" style="left:819px;top:282px" width="13" height="14" viewBox="0 0 13 14">
<rect x="0.2" y="5" width="12.5" height="8.6" fill="#777"/>
<path d="M3.4,5.5 V3.2 Q3.4,1 5.6,1 H7.4 Q9.6,1 9.6,3.2 V5.5" stroke="#777" stroke-width="2" fill="none"/>
</svg>
<div id="btn"></div>
<div class="abs" id="btnt"><span class="t" id="bt" style="transform:scaleX(1.09)">Sign In</span></div>
<svg class="abs" style="left:523px;top:396px" width="320" height="1"><line x1="0" y1="0.5" x2="320" y2="0.5" stroke="#7a7a7a" stroke-width="1" stroke-dasharray="3 3"/></svg>
<div class="abs cp" style="left:523.3px;top:419px"><span class="t" id="c1" style="transform:scaleX(1.1226)">Copyright @ 2021, <span class="lk">Demo Billing</span> , Designed &amp;</span></div>
<div class="abs cp" style="left:523.3px;top:436px"><span class="t" style="transform:scaleX(1.134)">developed with</span></div>
<svg class="abs" style="left:619.3px;top:438.6px" width="10" height="8.5" viewBox="0 0 10 8.5"><path d="M5,8.3 L1.1,4.4 C-0.2,3.1 -0.1,1 1.3,0.35 C2.6,-0.25 4,0.3 5,1.6 C6,0.3 7.4,-0.25 8.7,0.35 C10.1,1 10.2,3.1 8.9,4.4 Z" fill="#000"/></svg>
<div class="abs cp" style="left:633.6px;top:436px"><span class="t" style="transform:scaleX(1.067)">in India by <span class="lk">IHSOLUTION</span></span></div>
</body></html>
